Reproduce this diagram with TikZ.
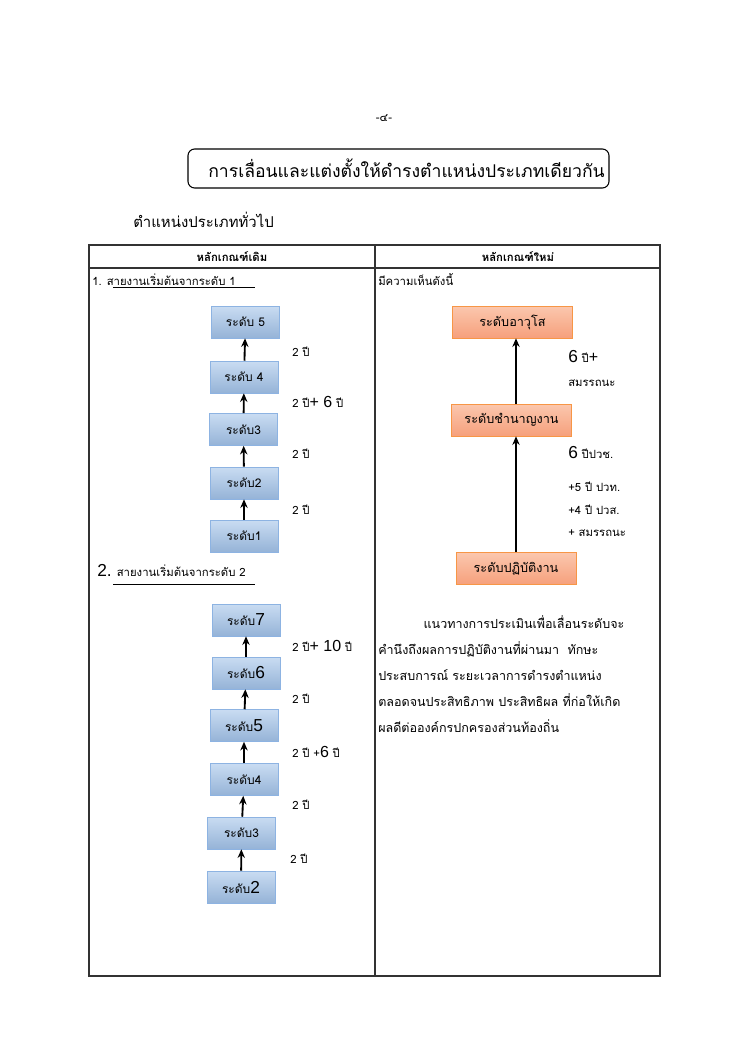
\documentclass[tikz,border=0pt]{standalone}
\usepackage{fontspec}
\setmainfont[Script=Thai]{Loma}
\newfontfamily\latsans{Liberation Sans}
\definecolor{LvBlueTop}{HTML}{C9DCF2}
\definecolor{LvBlueBot}{HTML}{95B3D7}
\definecolor{LvBlueLine}{HTML}{8DB3E2}
\definecolor{LvOrgTop}{HTML}{FBC7AE}
\definecolor{LvOrgBot}{HTML}{F6A07C}
\definecolor{LvOrgLine}{HTML}{F79646}
\definecolor{TblLine}{HTML}{333333}
\usetikzlibrary{arrows.meta, positioning}

\tikzset{
  lvblue/.style={draw=LvBlueLine, top color=LvBlueTop, bottom color=LvBlueBot,
    minimum width=51pt, minimum height=24pt, inner sep=1pt, font=\fontsize{9}{10}\selectfont},
  lvorange/.style={draw=LvOrgLine, top color=LvOrgTop, bottom color=LvOrgBot,
    minimum width=90pt, minimum height=24pt, inner sep=1pt, font=\fontsize{9.5}{11}\selectfont},
  uparr/.style={-{Stealth[length=6.5pt,width=5.5pt]}, line width=1.4pt},
  yrs/.style={anchor=west, inner sep=0pt, font=\fontsize{8.5}{10}\selectfont},
  big/.style={font=\latsans\fontsize{12}{12}\selectfont}
}

\begin{document}
\begin{tikzpicture}[x=0.75pt, y=-0.75pt]
  \useasboundingbox[fill=white] (0,0) rectangle (749,1060);
  % page number and heading
  \node[font=\fontsize{8.5}{9}\selectfont] (pagenum) at (384,118) {-๔-};
  \draw[line width=0.8pt, rounded corners=5pt] (188,149) rectangle (609,188);
  \node[anchor=east, inner sep=0pt, font=\fontsize{13.2}{15}\selectfont] (title) at (605,168)
    {การเลื่อนและแต่งตั้งให้ดำรงตำแหน่งประเภทเดียวกัน};
  \node[anchor=west, inner sep=0pt, font=\fontsize{11.2}{12}\selectfont] (subtitle) at (133,220)
    {ตำแหน่งประเภททั่วไป};
  % table
  \draw[TblLine, line width=1pt] (89,245) rectangle (660,976);
  \draw[TblLine, line width=1pt] (375,245) -- (375,976);
  \draw[TblLine, line width=0.8pt] (89,268) -- (660,268);
  \node[font=\bfseries\fontsize{8.5}{10}\selectfont] (oldhead) at (232,257) {หลักเกณฑ์เดิม};
  \node[font=\bfseries\fontsize{8.5}{10}\selectfont] (newhead) at (518,257) {หลักเกณฑ์ใหม่};
  \node[anchor=west, inner sep=0pt, font=\fontsize{8.5}{9}\selectfont] (line1) at (92,280)
    {1. สายงานเริ่มต้นจากระดับ 1};
  \draw (113,287) -- (255,287);
  \node[anchor=west, inner sep=0pt, font=\fontsize{8.5}{9}\selectfont] (opinion) at (378,280)
    {มีความเห็นดังนี้};

  % ladder 1
  \node[lvblue] (aL5) at (245.5,322) {ระดับ 5};
  \node[lvblue] (aL4) at (244,377) {ระดับ 4};
  \node[lvblue] (aL3) at (243.5,429.5) {ระดับ3};
  \node[lvblue] (aL2) at (244,483) {ระดับ2};
  \node[lvblue] (aL1) at (244,536) {ระดับ1};
  \draw[uparr] (aL4) -- (aL5);
  \draw[uparr] (aL3) -- (aL4);
  \draw[uparr] (aL2) -- (aL3);
  \draw[uparr] (aL1) -- (aL2);
  \node[yrs] (aY4) at (292,352) {2 ปี};
  \node[yrs] (aY3) at (292,402) {2 ปี{\latsans\fontsize{12}{12}\selectfont + 6} ปี};
  \node[yrs] (aY2) at (292,454) {2 ปี};
  \node[yrs] (aY1) at (292,510) {2 ปี};

  % ladder 2
  \node[anchor=west, inner sep=0pt, font=\fontsize{8.5}{9}\selectfont] (line2) at (97,570)
    {{\latsans\fontsize{13}{13}\selectfont 2.} สายงานเริ่มต้นจากระดับ 2};
  \draw (113,584) -- (255,584);
  \node[lvblue] (bL7) at (246,620) {ระดับ{\latsans\fontsize{13}{13}\selectfont 7}};
  \node[lvblue] (bL6) at (246,673) {ระดับ{\latsans\fontsize{13}{13}\selectfont 6}};
  \node[lvblue] (bL5) at (244,725.5) {ระดับ{\latsans\fontsize{13}{13}\selectfont 5}};
  \node[lvblue] (bL4) at (244,779.5) {ระดับ4};
  \node[lvblue] (bL3) at (241.5,833) {ระดับ3};
  \node[lvblue] (bL2) at (241,887) {ระดับ{\latsans\fontsize{13}{13}\selectfont 2}};
  \draw[uparr] (bL6) -- (bL7);
  \draw[uparr] (bL5) -- (bL6);
  \draw[uparr] (bL4) -- (bL5);
  \draw[uparr] (bL3) -- (bL4);
  \draw[uparr] (bL2) -- (bL3);
  \node[yrs] (bY6) at (292,646) {2 ปี{\latsans\fontsize{12}{12}\selectfont + 10} ปี};
  \node[yrs] (bY5) at (292,699) {2 ปี};
  \node[yrs] (bY4) at (292,752) {2 ปี +{\latsans\fontsize{12}{12}\selectfont 6} ปี};
  \node[yrs] (bY3) at (292,805) {2 ปี};
  \node[yrs] (bY2) at (290,859) {2 ปี};

  % new levels
  \node[lvorange] (senior) at (512.5,322) {ระดับอาวุโส};
  \node[lvorange] (skilled) at (511.5,420) {ระดับชำนาญงาน};
  \node[lvorange] (operate) at (516,568.5) {ระดับปฏิบัติงาน};
  \draw[uparr, line width=1.8pt] (operate) -- (operate |- skilled.south);
  \draw[uparr, line width=1.8pt] (operate |- skilled.north) -- (operate |- senior.south);
  \node[yrs] (cY1) at (568,357) {{\latsans\fontsize{13}{13}\selectfont 6} ปี{\latsans\fontsize{12}{12}\selectfont +}};
  \node[yrs] (cY2) at (568,383) {สมรรถนะ};
  \node[yrs] (cY3) at (568,453) {{\latsans\fontsize{13}{13}\selectfont 6} ปีปวช.};
  \node[yrs] (cY4) at (568,487) {+5 ปี ปวท.};
  \node[yrs] (cY5) at (568,510) {+4 ปี ปวส.};
  \node[yrs] (cY6) at (568,533) {+ สมรรถนะ};

  % guideline paragraph
  \node[anchor=north west, inner sep=0pt, align=left, font=\fontsize{9.4}{19.5}\selectfont] (guide) at (378,615)
    {\hspace*{34pt}แนวทางการประเมินเพื่อเลื่อนระดับจะ\\
     คำนึงถึงผลการปฏิบัติงานที่ผ่านมา \ ทักษะ\\
     ประสบการณ์ ระยะเวลาการดำรงตำแหน่ง\\
     ตลอดจนประสิทธิภาพ ประสิทธิผล ที่ก่อให้เกิด\\
     ผลดีต่อองค์กรปกครองส่วนท้องถิ่น};
\end{tikzpicture}
\end{document}
